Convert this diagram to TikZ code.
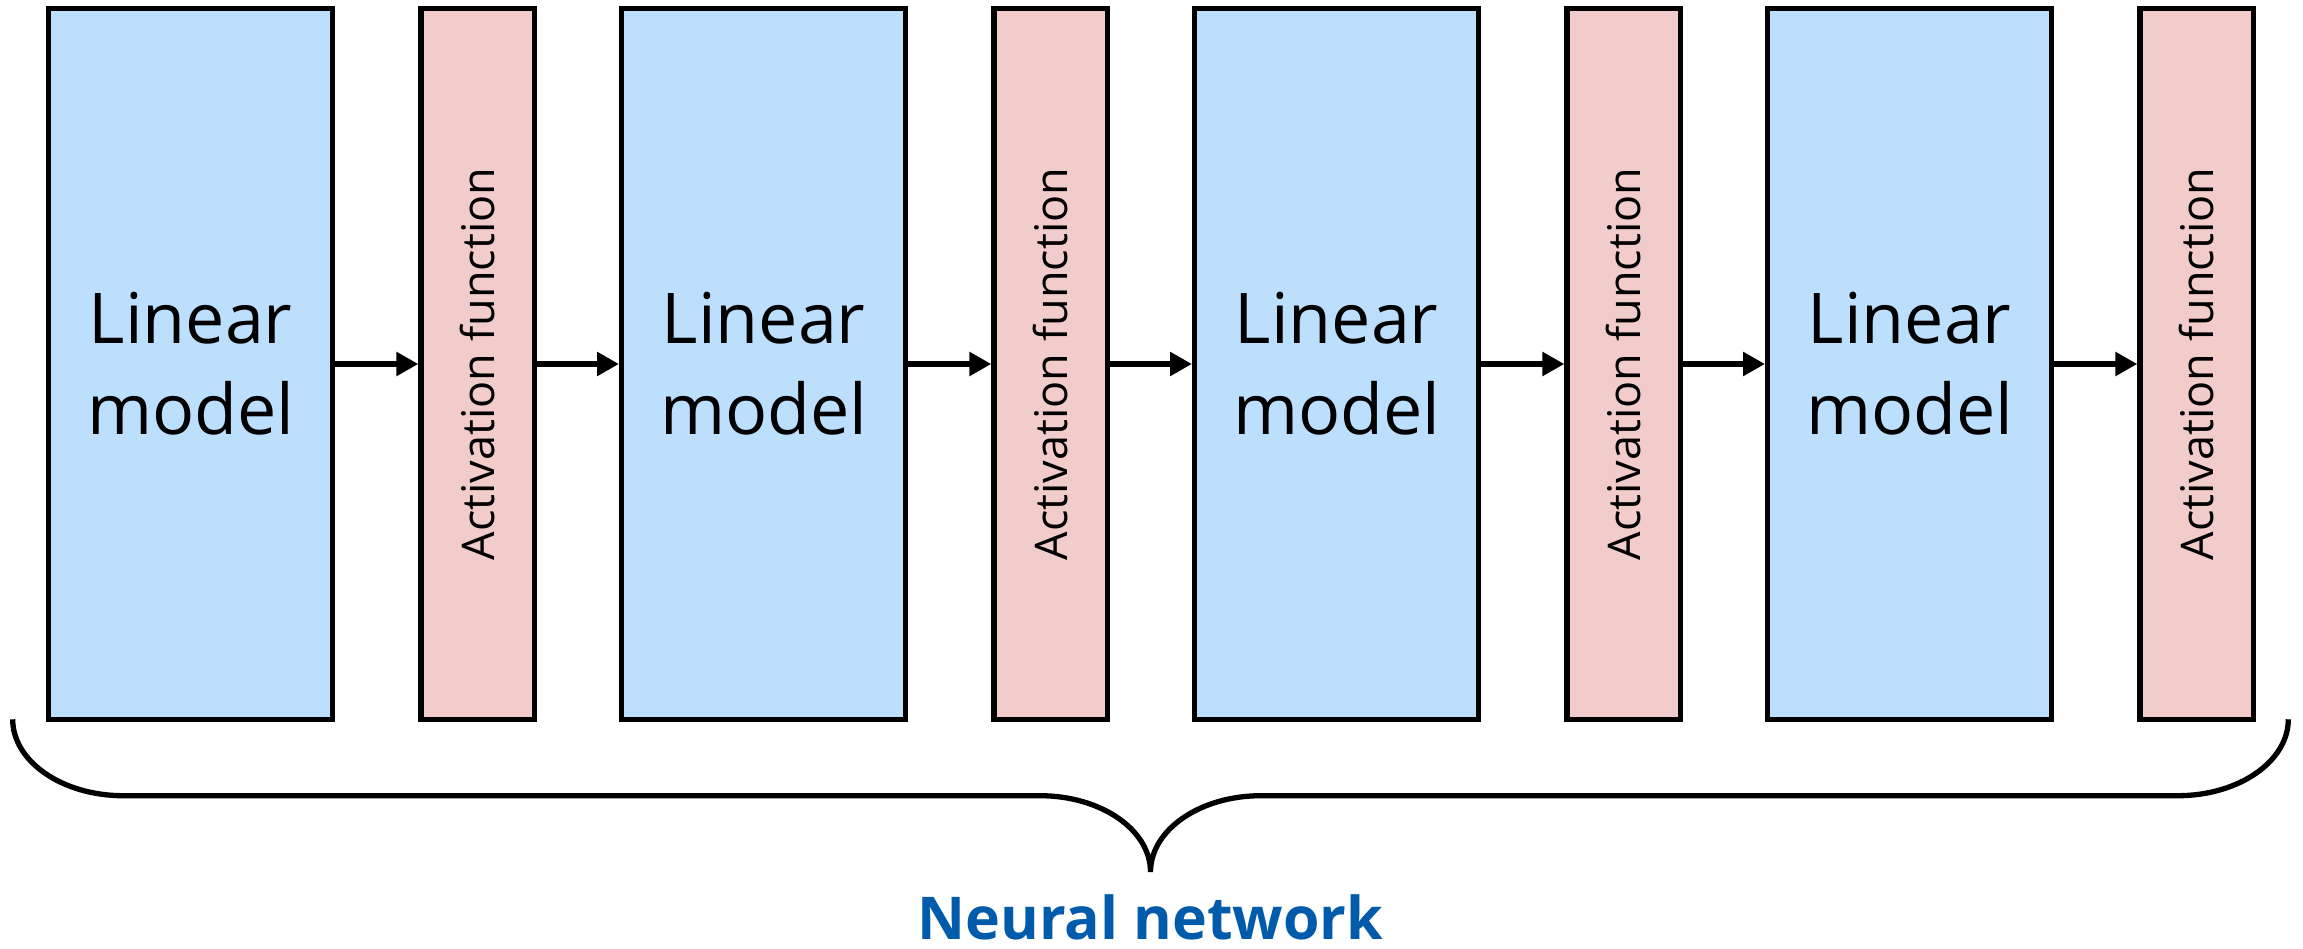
\documentclass[tikz,border=0pt]{standalone}
\usepackage{fontspec}
\setmainfont{Open Sans}
\usetikzlibrary{arrows.meta}
\definecolor{linfill}{RGB}{189,223,254}
\definecolor{actfill}{RGB}{242,204,203}
\definecolor{nnblue}{RGB}{0,91,170}
\begin{document}
\begin{tikzpicture}[x=1pt,y=-1pt,
  linbox/.style={draw=black, line width=5.3pt, fill=linfill, minimum width=284pt, minimum height=710.6pt,
    inner sep=0pt, align=center, font=\fontsize{70}{91}\selectfont},
  actbox/.style={draw=black, line width=5.3pt, fill=actfill, minimum width=113.3pt, minimum height=710.6pt,
    inner sep=0pt, font=\fontsize{45}{54}\selectfont},
  arr/.style={line width=6pt, -{Triangle[length=22pt,width=23pt]}},
  bracestyle/.style={line width=5.3pt}]
\useasboundingbox (0,0) rectangle (2303,949);
\foreach \k in {0,1,2,3}{
  \node[linbox] (l\k) at ({190.65+573*\k},364) {Linear\\model};
  \node[actbox] (a\k) at ({477.65+573*\k},364) {\rotatebox{90}{Activation function}};
}
\draw[arr] (l0) -- (a0);
\draw[arr] (a0) -- (l1);
\draw[arr] (l1) -- (a1);
\draw[arr] (a1) -- (l2);
\draw[arr] (l2) -- (a2);
\draw[arr] (a2) -- (l3);
\draw[arr] (l3) -- (a3);
% brace
\coordinate (bL) at (12.7,719.3);
\coordinate (bR) at (2288.3,719.3);
\coordinate (bT) at (1150.5,872);
\draw[bracestyle]
  (bL) .. controls (12.7,761.5) and (62.4,795.7) .. (123,795.7)
  -- (1040,795.7)
  .. controls (1101,795.7) and (1150.5,829.8) .. (bT)
  .. controls (1150.5,829.8) and (1200,795.7) .. (1261,795.7)
  -- (2178,795.7)
  .. controls (2238.6,795.7) and (2288.3,761.5) .. (bR);
\node[font=\fontsize{59}{70}\selectfont\bfseries, text=nnblue, anchor=base, inner sep=0pt, text depth=0pt] (nn) at (1150.5,939) {Neural network};
\end{tikzpicture}
\end{document}
